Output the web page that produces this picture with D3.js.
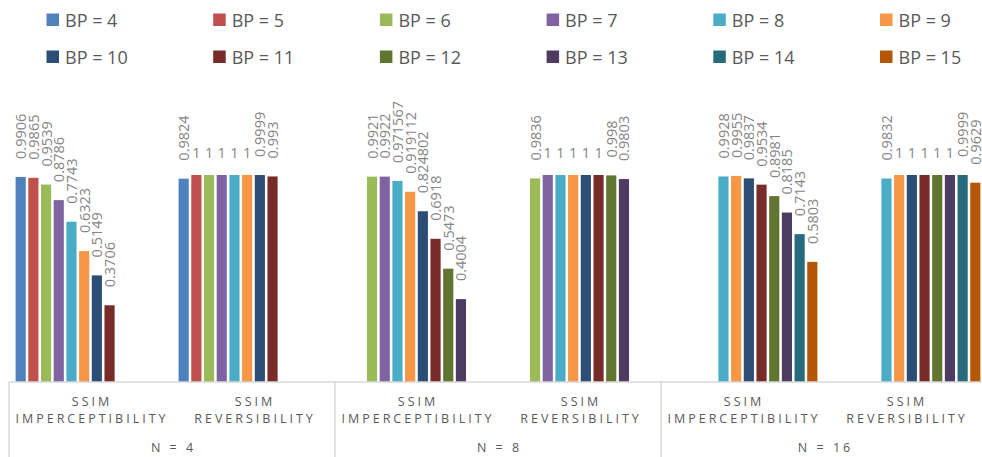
<!DOCTYPE html>
<html>
<head>
<meta charset="utf-8">
<script src="https://cdn.jsdelivr.net/npm/d3@7"></script>
<style>
  body { margin: 0; background: #fff; }
  svg { display: block; }
  text { font-family: "Open Sans", "Noto Sans", sans-serif; }
</style>
</head>
<body>
<svg id="chart" width="982" height="457"></svg>
<script>
// Series (bit-plane settings) and their colours
const seriesNames = ["BP = 4", "BP = 5", "BP = 6", "BP = 7", "BP = 8", "BP = 9",
                     "BP = 10", "BP = 11", "BP = 12", "BP = 13", "BP = 14", "BP = 15"];
const seriesColors = ["#4F81BD", "#C0504D", "#9BBB59", "#8064A2", "#4BACC6", "#F79646",
                      "#2C4D75", "#772C2A", "#5F7530", "#4D3B62", "#276A7C", "#B65708"];

// Category axis: outer groups and inner metrics
const groups = ["N = 4", "N = 8", "N = 16"];
const metrics = ["SSIM IMPERCEPTIBILITY", "SSIM REVERSIBILITY"];

// SSIM values per category, one entry per series (null = not measured)
const n4Imperceptibility  = [0.9906, 0.9865, 0.9539, 0.8786, 0.7743, 0.6323, 0.5149, 0.3706, null, null, null, null];
const n4Reversibility     = [0.9824, 1, 1, 1, 1, 1, 0.9999, 0.993, null, null, null, null];
const n8Imperceptibility  = [null, null, 0.9921, 0.9922, 0.971567, 0.919112, 0.824802, 0.6918, 0.5473, 0.4004, null, null];
const n8Reversibility     = [null, null, 0.9836, 1, 1, 1, 1, 1, 0.998, 0.9803, null, null];
const n16Imperceptibility = [null, null, null, null, 0.9928, 0.9955, 0.9837, 0.9534, 0.8981, 0.8185, 0.7143, 0.5803];
const n16Reversibility    = [null, null, null, null, 0.9832, 1, 1, 1, 1, 1, 0.9999, 0.9629];

const categoryValues = [n4Imperceptibility, n4Reversibility,
                        n8Imperceptibility, n8Reversibility,
                        n16Imperceptibility, n16Reversibility];

const svg = d3.select("#chart");
svg.append("rect").attr("width", 982).attr("height", 457).attr("fill", "#fff");

const plotLeft = 9, catWidth = 163, baseline = 382;
const catIndex = d3.range(categoryValues.length);

const xOuter = d3.scaleBand().domain(catIndex)
  .range([plotLeft, plotLeft + catIndex.length * catWidth]).padding(0);
const xInner = d3.scaleBand().domain(seriesNames)
  .range([0, xOuter.bandwidth()]).paddingInner(0.2).paddingOuter(0.52);
const xGroup = d3.scaleBand().domain(groups)
  .range([plotLeft, plotLeft + catIndex.length * catWidth]).padding(0);
const y = d3.scaleLinear().domain([0, 1]).range([baseline, 175]);

// Legend: two rows of six
const legend = svg.append("g");
seriesNames.forEach((name, i) => {
  const col = i % 6, row = Math.floor(i / 6);
  const g = legend.append("g")
    .attr("transform", `translate(${46.5 + col * 166.7},${row === 0 ? 13.5 : 50.5})`);
  g.append("rect").attr("width", 12.5).attr("height", 12.5).attr("fill", seriesColors[i]);
  g.append("text").attr("x", 18.5).attr("y", 13)
    .attr("font-size", 18).attr("fill", "#595959").text(name);
});

// Bars and value labels
const bars = svg.append("g");
const labels = svg.append("g");
categoryValues.forEach((vals, ci) => {
  vals.forEach((v, si) => {
    if (v === null) return;
    const x0 = xOuter(ci) + xInner(seriesNames[si]);
    const cx = x0 + xInner.bandwidth() / 2;
    bars.append("rect")
      .attr("x", x0).attr("y", y(v))
      .attr("width", xInner.bandwidth()).attr("height", y(0) - y(v))
      .attr("fill", seriesColors[si]);
    const t = labels.append("text")
      .attr("font-size", 14.5).attr("fill", "#858585").text(String(v));
    if (String(v).length === 1) {
      t.attr("x", cx).attr("y", y(v) - 17).attr("text-anchor", "middle");
    } else {
      t.attr("transform", `translate(${cx},${y(v) - 18}) rotate(-90)`)
        .attr("text-anchor", "start").attr("dominant-baseline", "central");
    }
  });
});

// Category axis (inner level: metric names)
const axisColor = "#d9d9d9";
const catAxis = svg.append("g").attr("transform", `translate(0,${baseline})`)
  .call(d3.axisBottom(xOuter).tickSize(0).tickFormat(i => metrics[i % 2]));
catAxis.select(".domain").remove();
catAxis.selectAll(".tick text").each(function (d) {
  const words = metrics[d % 2].split(" ");
  const t = d3.select(this).text(null).attr("y", 0).attr("dy", null)
    .attr("fill", "#595959").attr("font-size", 12.5)
    .style("letter-spacing", "3px");
  t.append("tspan").attr("x", 1.5).attr("y", 23.5).text(words[0]);
  t.append("tspan").attr("x", 1.5).attr("y", 41).text(words[1]);
});

// Category axis (outer level: N groups)
const groupAxis = svg.append("g").attr("transform", `translate(0,${baseline})`)
  .call(d3.axisBottom(xGroup).tickSize(0));
groupAxis.select(".domain").remove();
groupAxis.selectAll(".tick text")
  .attr("y", 69.5).attr("dy", null)
  .attr("fill", "#595959").attr("font-size", 12.5)
  .style("letter-spacing", "3px").attr("x", 1.5);

// Axis lines and group separators
svg.append("line")
  .attr("x1", plotLeft).attr("x2", xGroup.range()[1])
  .attr("y1", baseline).attr("y2", baseline)
  .attr("stroke", axisColor).attr("stroke-width", 1.5);
svg.selectAll(".sep").data(groups.concat(["end"])).enter().append("line")
  .attr("x1", d => d === "end" ? xGroup.range()[1] : xGroup(d))
  .attr("x2", d => d === "end" ? xGroup.range()[1] : xGroup(d))
  .attr("y1", baseline).attr("y2", 457)
  .attr("stroke", axisColor).attr("stroke-width", 1.5);
</script>
</body>
</html>
